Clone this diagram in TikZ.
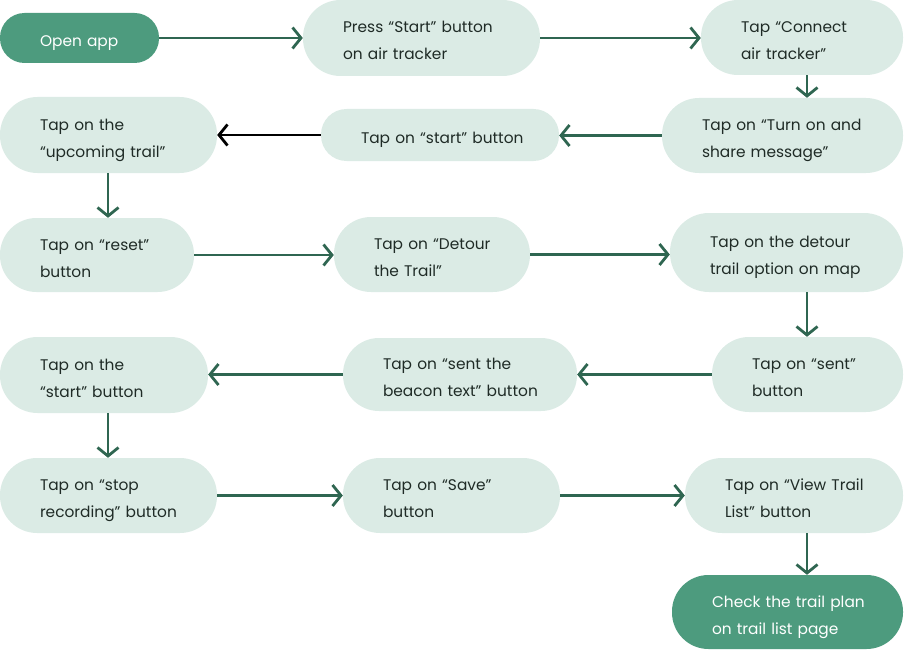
\documentclass[tikz,border=0pt]{standalone}
\usepackage{fontspec}
\setmainfont{Poppins}
\usetikzlibrary{arrows.meta}
\definecolor{darkfill}{HTML}{4D9B7E}
\definecolor{lightfill}{HTML}{DBEBE5}
\definecolor{arrowcol}{HTML}{2F6651}
\definecolor{textcol}{HTML}{1F2B26}
\tikzset{
  flowbox/.style n args={2}{rounded corners=#2pt/2-0.5pt, minimum width=#1pt, minimum height=#2pt,
    text width=#1pt-80pt, inner xsep=40pt, inner ysep=0pt, align=left, anchor=center,
    font=\fontsize{15.4}{27}\selectfont,
    execute at begin node={\rule{0pt}{22pt}}, execute at end node={\rule[-5pt]{0pt}{5pt}}},
  oneline/.style={execute at begin node={\rule{0pt}{17.5pt}}},
  lightbox/.style={fill=lightfill, text=textcol},
  darkbox/.style={fill=darkfill, text=white},
  conn/.style={draw=arrowcol, line width=2.8pt, -{Straight Barb[length=8.5pt,width=21pt,line width=2.8pt]}},
  blackconn/.style={draw=black, line width=2.8pt, -{Straight Barb[length=8.5pt,width=21pt,line width=2.8pt]}}
}
\begin{document}
\begin{tikzpicture}[x=1pt,y=-1pt]
\useasboundingbox (0,0) rectangle (904,650);
\coordinate (xr) at (807,0);
\coordinate (xl) at (108,0);
\node[flowbox={159}{50}, darkbox, oneline] (open) at (79.5,38) {\mbox{Open app}};
\node[flowbox={237}{76}, lightbox] (press) at (421.5,38) {\mbox{Press “Start” button}\\\mbox{on air tracker}};
\node[flowbox={202}{75}, lightbox] (connect) at (802,37.5) {\mbox{Tap “Connect}\\\mbox{air tracker”}};
\node[flowbox={241}{75}, lightbox] (turnon) at (782.5,135.5) {\mbox{Tap on “Turn on and}\\\mbox{share message”}};
\node[flowbox={238}{52}, lightbox, oneline] (startbtn) at (440,135) {\mbox{Tap on “start” button}};
\node[flowbox={217}{76}, lightbox] (upcoming) at (108.5,135) {\mbox{Tap on the}\\\mbox{“upcoming trail”}};
\node[flowbox={194}{74}, lightbox] (reset) at (97,255) {\mbox{Tap on “reset”}\\\mbox{button}};
\node[flowbox={196}{75}, lightbox] (detour) at (432,254.5) {\mbox{Tap on “Detour}\\\mbox{the Trail”}};
\node[flowbox={233}{79}, lightbox] (option) at (786.5,252.5) {\mbox{Tap on the detour}\\\mbox{trail option on map}};
\node[flowbox={191}{75}, lightbox] (sent) at (807.5,374.5) {\mbox{Tap on “sent”}\\\mbox{button}};
\node[flowbox={234}{73}, lightbox] (beacon) at (460,374.5) {\mbox{Tap on “sent the}\\\mbox{beacon text” button}};
\node[flowbox={208}{76}, lightbox] (startthe) at (104,375) {\mbox{Tap on the}\\\mbox{“start” button}};
\node[flowbox={217}{75}, lightbox] (stop) at (108.5,495.5) {\mbox{Tap on “stop}\\\mbox{recording” button}};
\node[flowbox={217}{75}, lightbox] (save) at (451.5,495.5) {\mbox{Tap on “Save”}\\\mbox{button}};
\node[flowbox={218}{75}, lightbox] (view) at (794,495.5) {\mbox{Tap on “View Trail}\\\mbox{List” button}};
\node[flowbox={231}{74}, darkbox] (check) at (787.5,612) {\mbox{Check the trail plan}\\\mbox{on trail list page}};
\draw[conn] (open.east) -- (open.east -| press.west);
\draw[conn] (press.east) -- (press.east -| connect.west);
\draw[conn] (connect.south -| xr) -- (turnon.north -| xr);
\draw[conn] (turnon.west) -- (turnon.west -| startbtn.east);
\draw[blackconn] (startbtn.west) -- (startbtn.west -| upcoming.east);
\draw[conn] (upcoming.south -| xl) -- (reset.north -| xl);
\draw[conn] (reset.east) -- (reset.east -| detour.west);
\draw[conn] (detour.east) -- (detour.east -| option.west);
\draw[conn] (option.south -| xr) -- (sent.north -| xr);
\draw[conn] (sent.west) -- (sent.west -| beacon.east);
\draw[conn] (beacon.west) -- (beacon.west -| startthe.east);
\draw[conn] (startthe.south -| xl) -- (stop.north -| xl);
\draw[conn] (stop.east) -- (stop.east -| save.west);
\draw[conn] (save.east) -- (save.east -| view.west);
\draw[conn] (view.south -| xr) -- (check.north -| xr);
\end{tikzpicture}
\end{document}
